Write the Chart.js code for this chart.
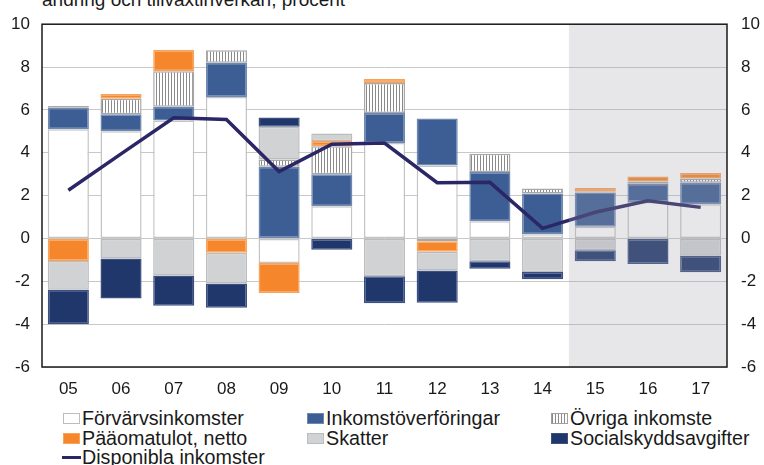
<!DOCTYPE html>
<html>
<head>
<meta charset="utf-8">
<script src="https://cdn.jsdelivr.net/npm/chart.js@4"></script>
<style>
  html, body { margin: 0; padding: 0; background: #fff; }
  body { width: 764px; height: 465px; position: relative; overflow: hidden; font-family: "Liberation Sans", Arial, sans-serif; color: #1a1a1a; }
  #wrap { position: absolute; left: 0; top: 0; width: 764px; height: 400px; }
  .title { position: absolute; left: 42px; top: -10px; font-size: 19px; line-height: 19px; white-space: nowrap; }
  .lg { position: absolute; font-size: 19.7px; line-height: 20px; white-space: nowrap; }
  .mk { position: absolute; width: 17px; height: 11px; box-sizing: border-box; }
</style>
</head>
<body>
<div class="title">ändring och tillväxtinverkan, procent</div>
<div id="wrap"><canvas id="c" width="764" height="400"></canvas></div>

<!-- legende -->
<div class="mk" style="left:63px;top:413px;background:#fff;border:1px solid #bdbdbd"></div>
<div class="lg" style="left:82px;top:408px">Förvärvsinkomster</div>
<div class="mk" style="left:307px;top:413px;background:#3c5e94;border:1px solid #6f88b2"></div>
<div class="lg" style="left:326px;top:408px">Inkomstöverföringar</div>
<div class="mk" style="left:551px;top:413px;background:repeating-linear-gradient(90deg,#8a8a8a 0 1px,#fff 1px 3px);border:1px solid #a0a0a0"></div>
<div class="lg" style="left:570px;top:408px">Övriga inkomste</div>

<div class="mk" style="left:63px;top:433px;background:#f5862b;border:1px solid #f8a35a"></div>
<div class="lg" style="left:82px;top:428px">Pääomatulot, netto</div>
<div class="mk" style="left:307px;top:433px;background:#d1d2d4;border:1px solid #bbbcbe"></div>
<div class="lg" style="left:326px;top:428px">Skatter</div>
<div class="mk" style="left:551px;top:433px;background:#20376c;border:1px solid #3c4f80"></div>
<div class="lg" style="left:570px;top:428px">Socialskyddsavgifter</div>

<div style="position:absolute;left:62px;top:456px;width:19px;height:3px;background:#2b2766"></div>
<div class="lg" style="left:82px;top:447px">Disponibla inkomster</div>

<script>
// kategorier (år) och axelns steg
const years = ['05', '06', '07', '08', '09', '10', '11', '12', '13', '14', '15', '16', '17'];
const yTicks = [-6, -4, -2, 0, 2, 4, 6, 8, 10];

// bidrag, procentenheter
const forvarv = [5.1, 5.0, 5.5, 6.6, -1.15, 1.5, 4.45, 3.4, 0.8, 0.2, 0.55, 1.7, 1.6];
const overforingar = [1.0, 0.8, 0.65, 1.6, 3.35, 1.5, 1.4, 2.2, 2.3, 1.9, 1.6, 0.85, 1.0];
const ovriga = [0.08, 0.72, 1.65, 0.58, 0.34, 1.3, 1.4, -0.13, 0.85, 0.23, 0.03, 0.11, 0.2];
const paaoma = [-1.05, 0.22, 1.0, -0.67, -1.4, 0.25, 0.19, -0.49, -0.03, -0.03, 0.17, 0.23, 0.26];
const skatter = [-1.35, -0.93, -1.73, -1.43, 1.52, 0.35, -1.76, -0.88, -1.04, -1.54, -0.55, -0.03, -0.81];
const socialskydd = [-1.6, -1.87, -1.41, -1.13, 0.43, -0.53, -1.27, -1.5, -0.34, -0.33, -0.52, -1.16, -0.77];
const disponibla = [2.25, 3.95, 5.63, 5.55, 3.12, 4.4, 4.45, 2.6, 2.62, 0.47, 1.22, 1.76, 1.45];

const firstForecast = 10; // '15' och framåt är prognos

const ctx = document.getElementById('c').getContext('2d');

// randigt mönster för "Övriga inkomster"
function hatch() {
    const p = document.createElement('canvas');
    p.width = 3; p.height = 4;
    const g = p.getContext('2d');
    g.fillStyle = '#ffffff';
    g.fillRect(0, 0, 3, 4);
    g.fillStyle = '#8a8a8a';
    g.fillRect(0, 0, 1, 4);
    return ctx.createPattern(p, 'repeat');
}

function bar(label, data, bg, border) {
    return {
        type: 'bar', label: label, data: data,
        backgroundColor: bg, borderColor: border, borderWidth: 1.5,
        borderSkipped: false, stack: 's', order: 1,
        barPercentage: 0.78, categoryPercentage: 1.0, yAxisID: 'y'
    };
}

// grå prognosyta + ram runt diagrammet
const extras = {
    id: 'extras',
    afterDatasetsDraw(chart) {
        const a = chart.chartArea, x = chart.scales.x;
        const x0 = (x.getPixelForValue(firstForecast - 1) + x.getPixelForValue(firstForecast)) / 2;
        const c = chart.ctx;
        c.save();
        c.fillStyle = 'rgba(158,160,172,0.25)';
        c.fillRect(x0, a.top, a.right - x0, a.bottom - a.top);
        c.restore();
    },
    afterDraw(chart) {
        const a = chart.chartArea, c = chart.ctx;
        c.save();
        c.strokeStyle = '#1a1a1a';
        c.lineWidth = 1.5;
        c.strokeRect(a.left, a.top, a.right - a.left, a.bottom - a.top);
        c.restore();
    }
};

const tickFont = { family: '"Liberation Sans", Arial, sans-serif', size: 17 };

new Chart(ctx, {
    data: {
        labels: years,
        datasets: [
            bar('Förvärvsinkomster', forvarv, '#ffffff', '#c4c4c4'),
            bar('Inkomstöverföringar', overforingar, '#3c5e94', '#6f88b2'),
            bar('Övriga inkomster', ovriga, hatch(), '#a8a8a8'),
            bar('Pääomatulot, netto', paaoma, '#f5862b', '#f8a35a'),
            bar('Skatter', skatter, '#d1d2d4', '#bbbcbe'),
            bar('Socialskyddsavgifter', socialskydd, '#20376c', '#3c4f80'),
            {
                type: 'line', label: 'Disponibla inkomster', data: disponibla,
                borderColor: '#2b2766', borderWidth: 3.5, pointRadius: 0,
                tension: 0, order: 0, yAxisID: 'y'
            }
        ]
    },
    options: {
        responsive: false,
        animation: false,
        layout: { padding: { top: 21, left: 0, right: 0, bottom: 0 } },
        plugins: { legend: { display: false }, tooltip: { enabled: false } },
        scales: {
            x: {
                stacked: true,
                grid: { display: false },
                border: { display: false },
                ticks: { color: '#1a1a1a', font: tickFont, padding: 4, maxRotation: 0 },
                afterFit(s) { s.height = 33; }
            },
            y: {
                stacked: true,
                min: -6, max: 10,
                afterBuildTicks(s) { s.ticks = yTicks.map(v => ({ value: v })); },
                grid: { color: '#c8c8c8', lineWidth: 1, drawTicks: false },
                border: { display: false },
                ticks: { color: '#1a1a1a', font: tickFont, padding: 12 },
                afterFit(s) { s.width = 42; }
            },
            y2: {
                position: 'right',
                min: -6, max: 10,
                afterBuildTicks(s) { s.ticks = yTicks.map(v => ({ value: v })); },
                grid: { display: false, drawTicks: false },
                border: { display: false },
                ticks: { color: '#1a1a1a', font: tickFont, padding: 14 },
                afterFit(s) { s.width = 37; }
            }
        }
    },
    plugins: [extras]
});
</script>
</body>
</html>
